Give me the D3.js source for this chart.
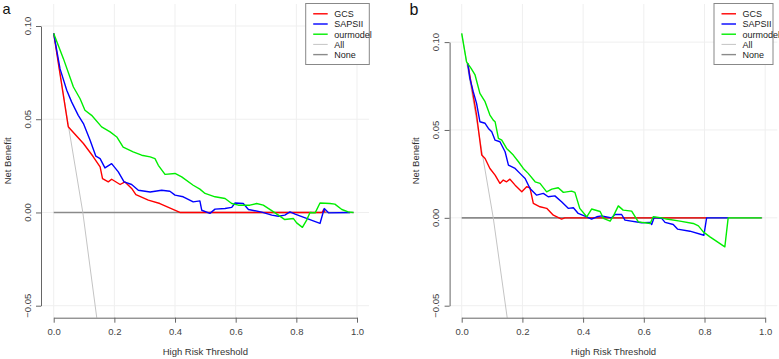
<!DOCTYPE html>
<html>
<head>
<meta charset="utf-8">
<script src="https://cdn.jsdelivr.net/npm/d3@7"></script>
<style>
  html, body { margin: 0; padding: 0; background: #fff; }
  svg { display: block; font-family: "Liberation Sans", Arial, sans-serif; }
</style>
</head>
<body>
<svg id="chart" width="779" height="359"></svg>
<script>
// Decision curves, two panels (a, b).
const seriesNames = ['GCS', 'SAPSII', 'ourmodel', 'All', 'None'];
const xTicks = [0, 0.2, 0.4, 0.6, 0.8, 1.0];
const yTicks = [-0.05, 0, 0.05, 0.10];

// panel a  [threshold, net benefit]
const gcsA = [[0,0.096],[0.048,0.046],[0.059,0.044],[0.098,0.037],[0.13,0.030],[0.153,0.0244],[0.161,0.0182],
  [0.18,0.0164],[0.191,0.0178],[0.219,0.015],[0.235,0.0164],[0.257,0.0129],[0.271,0.0096],[0.312,0.0066],
  [0.35,0.0048],[0.416,0],[0.885,0],[0.89,0.0015],[0.895,0]];
const sapsA = [[0,0.096],[0.021,0.077],[0.043,0.0655],[0.059,0.0593],[0.081,0.0521],[0.098,0.0477],[0.12,0.0387],
  [0.139,0.0302],[0.153,0.0289],[0.169,0.0239],[0.191,0.0262],[0.213,0.0218],[0.232,0.0164],[0.257,0.015],
  [0.279,0.0119],[0.318,0.011],[0.356,0.0119],[0.383,0.0114],[0.4,0.0093],[0.427,0.0084],[0.46,0.0057],
  [0.482,0.0062],[0.488,0.0012],[0.515,-0.0005],[0.532,0.0018],[0.565,0.0021],[0.587,0.0027],[0.598,0.0051],
  [0.625,0.0048],[0.642,0.0016],[0.686,0.0002],[0.719,-0.0014],[0.741,-0.002],[0.762,-0.0014],[0.779,0.0003],
  [0.796,-0.0009],[0.878,-0.0059],[0.892,0.0021],[0.906,-0.0002],[0.977,0]];
const oursA = [[0,0.096],[0.032,0.0825],[0.065,0.0673],[0.087,0.061],[0.103,0.0548],[0.125,0.0521],[0.158,0.0459],
  [0.186,0.0432],[0.208,0.0405],[0.229,0.0351],[0.262,0.0325],[0.29,0.0307],[0.318,0.0298],[0.334,0.0289],
  [0.345,0.0253],[0.367,0.0204],[0.4,0.0209],[0.422,0.0191],[0.46,0.0146],[0.482,0.0125],[0.499,0.0102],
  [0.532,0.0084],[0.565,0.0075],[0.587,0.0048],[0.609,0.0039],[0.647,0.0039],[0.669,0.0048],[0.691,0.0039],
  [0.73,-0.0002],[0.762,-0.0038],[0.79,-0.0032],[0.801,-0.0056],[0.82,-0.008],[0.834,-0.0041],[0.845,0],
  [0.862,-0.0002],[0.878,0.0051],[0.911,0.0048],[0.927,0.0045],[0.95,0.0016],[0.971,0.0003],[0.988,0]];
const allA = [[0,0.096],[0.048,0.047],[0.096,0],[0.142,-0.0565],[0.16,-0.08]];
const noneA = [[0,0],[0.99,0]];

// panel b
const gcsB = [[0.02,0.0879],[0.033,0.0746],[0.049,0.0585],[0.066,0.0357],[0.077,0.0338],[0.093,0.0281],
  [0.11,0.0243],[0.126,0.0196],[0.137,0.0215],[0.148,0.0205],[0.159,0.022],[0.176,0.0186],[0.198,0.0148],
  [0.214,0.0177],[0.225,0.0171],[0.236,0.0082],[0.258,0.0063],[0.28,0.0054],[0.302,0.0015],[0.329,-0.0007],
  [0.34,0],[0.807,0]];
const sapsB = [[0.02,0.0879],[0.027,0.0794],[0.038,0.0718],[0.049,0.0651],[0.06,0.0547],[0.077,0.0538],
  [0.088,0.0509],[0.099,0.049],[0.11,0.0442],[0.126,0.0433],[0.143,0.0376],[0.154,0.03],[0.176,0.0281],
  [0.192,0.0253],[0.209,0.0224],[0.225,0.0167],[0.247,0.0129],[0.269,0.0139],[0.285,0.012],[0.307,0.0125],
  [0.329,0.0091],[0.351,0.0054],[0.368,0.0057],[0.384,0.0025],[0.412,0.0006],[0.428,-0.0007],[0.445,0.0006],
  [0.461,0.0011],[0.494,0],[0.505,0.0019],[0.527,0.0019],[0.538,-0.0013],[0.593,-0.0028],[0.621,-0.0026],
  [0.626,-0.0038],[0.634,0.0002],[0.659,-0.0003],[0.67,-0.0026],[0.697,-0.0038],[0.711,-0.0064],
  [0.752,-0.0076],[0.798,-0.0099],[0.807,0],[0.878,0]];
const oursB = [[0,0.105],[0.016,0.0888],[0.031,0.085],[0.044,0.0813],[0.06,0.0708],[0.077,0.0661],[0.093,0.0585],
  [0.104,0.0556],[0.11,0.0547],[0.121,0.0452],[0.132,0.0442],[0.148,0.0395],[0.17,0.0357],[0.187,0.0319],
  [0.203,0.0281],[0.219,0.0253],[0.242,0.0205],[0.258,0.0196],[0.28,0.0148],[0.297,0.0163],[0.318,0.0171],
  [0.335,0.0145],[0.362,0.0152],[0.373,0.0145],[0.389,0.0054],[0.412,0.0006],[0.428,0.005],[0.456,0.0036],
  [0.467,-0.0003],[0.489,-0.0019],[0.5,0.0011],[0.516,0.0068],[0.532,0.0044],[0.56,0.0038],[0.582,-0.0023],
  [0.621,-0.0032],[0.631,0.0006],[0.659,0],[0.675,-0.0007],[0.719,-0.0019],[0.763,-0.0032],[0.78,-0.0046],
  [0.796,-0.008],[0.818,-0.0108],[0.834,-0.0127],[0.867,-0.0165],[0.878,0],[0.988,0]];
const allB = [[0,0.105],[0.104,0],[0.15,-0.057],[0.17,-0.08]];
const noneB = [[0,0],[0.99,0]];

const colors = { GCS: '#ff0000', SAPSII: '#0000ff', ourmodel: '#00ee00', All: '#c4c4c4', None: '#8a8a8a' };

const svg = d3.select('#chart');

function drawPanel(p) {
  const x = d3.scaleLinear().domain([0, 1]).range([p.x0, p.x1]);
  const y = d3.scaleLinear().domain([-0.05, 0.10]).range([p.yLo, p.yHi]);
  const g = svg.append('g');

  // plot region clip
  g.append('clipPath').attr('id', 'clip-' + p.id)
    .append('rect')
    .attr('x', p.left).attr('y', p.top)
    .attr('width', p.right - p.left).attr('height', p.bottom - p.top);

  // grid
  g.selectAll('.vgrid').data(xTicks).join('line')
    .attr('x1', d => x(d)).attr('x2', d => x(d))
    .attr('y1', p.top).attr('y2', p.bottom)
    .attr('stroke', '#efefef').attr('stroke-width', 1);
  g.selectAll('.hgrid').data(yTicks).join('line')
    .attr('x1', p.left).attr('x2', p.right)
    .attr('y1', d => y(d)).attr('y2', d => y(d))
    .attr('stroke', '#efefef').attr('stroke-width', 1);

  // curves
  const line = d3.line().x(d => x(d[0])).y(d => y(d[1]));
  const curves = g.append('g').attr('clip-path', `url(#clip-${p.id})`);
  const order = [['None', p.none, 1.6], ['All', p.all, 1], ['GCS', p.gcs, 1.4],
                 ['SAPSII', p.saps, 1.4], ['ourmodel', p.ours, 1.4]];
  order.forEach(([name, data, w]) => {
    curves.append('path')
      .attr('d', line(data))
      .attr('fill', 'none')
      .attr('stroke', colors[name])
      .attr('stroke-width', w)
      .attr('stroke-linejoin', 'round');
  });

  // axes (labels added separately so the y ones can be rotated like R's)
  const xAxis = g.append('g').attr('transform', `translate(0,${p.bottom})`)
    .call(d3.axisBottom(x).tickValues(xTicks).tickFormat(d3.format('.1f')).tickSize(5).tickSizeOuter(0));
  const yAxis = g.append('g').attr('transform', `translate(${p.left},0)`)
    .call(d3.axisLeft(y).tickValues(yTicks).tickFormat('').tickSize(5).tickSizeOuter(0));
  [xAxis, yAxis].forEach(a => {
    a.select('.domain').attr('stroke', '#666');
    a.selectAll('.tick line').attr('stroke', '#666');
  });
  xAxis.selectAll('.tick text').attr('y', 11).attr('fill', '#444').style('font-size', '9.5px')
    .style('font-family', '"Liberation Sans", Arial, sans-serif');

  g.selectAll('.ylab').data(yTicks).join('text')
    .attr('transform', d => `translate(${p.left - 10.5},${y(d)}) rotate(-90)`)
    .attr('text-anchor', 'middle')
    .attr('fill', '#444').style('font-size', '9.5px')
    .text(d3.format('.2f'));

  // titles
  g.append('text')
    .attr('x', (x(0) + x(1)) / 2).attr('y', 355)
    .attr('text-anchor', 'middle').attr('fill', '#333').style('font-size', '9.5px')
    .text('High Risk Threshold');
  g.append('text')
    .attr('transform', `translate(${p.left - 30.5},${(p.top + p.bottom) / 2}) rotate(-90)`)
    .attr('text-anchor', 'middle').attr('fill', '#333').style('font-size', '9.5px')
    .text('Net Benefit');
  g.append('text')
    .attr('x', p.letterX).attr('y', p.letterY)
    .attr('fill', '#111').style('font-size', p.letterSize)
    .text(p.id);

  // legend
  const lg = g.append('g').attr('transform', `translate(${p.legX},3.5)`);
  lg.append('rect').attr('width', p.legW).attr('height', 61)
    .attr('fill', '#fff').attr('stroke', '#888').attr('stroke-width', 1);
  seriesNames.forEach((name, i) => {
    const yy = 10.3 + i * 10.2;
    lg.append('line')
      .attr('x1', 7.5).attr('x2', 22).attr('y1', yy).attr('y2', yy)
      .attr('stroke', colors[name]).attr('stroke-width', name === 'All' ? 1 : 1.4);
    lg.append('text')
      .attr('x', 28.5).attr('y', yy + 3.3)
      .attr('fill', '#222').style('font-size', '9px')
      .text(name);
  });
}

drawPanel({ id: 'a', x0: 53.7, x1: 357, yLo: 305.7, yHi: 26, left: 41, right: 369, top: 4, bottom: 317.7,
  letterX: 2.5, letterY: 13.5, letterSize: '14.5px', legX: 305.7, legW: 63.6,
  gcs: gcsA, saps: sapsA, ours: oursA, all: allA, none: noneA });
drawPanel({ id: 'b', x0: 461.7, x1: 765.2, yLo: 305.7, yHi: 42.1, left: 449.6, right: 777.3, top: 4, bottom: 317.7,
  letterX: 409.5, letterY: 15, letterSize: '16px', legX: 714, legW: 59,
  gcs: gcsB, saps: sapsB, ours: oursB, all: allB, none: noneB });
</script>
</body>
</html>
